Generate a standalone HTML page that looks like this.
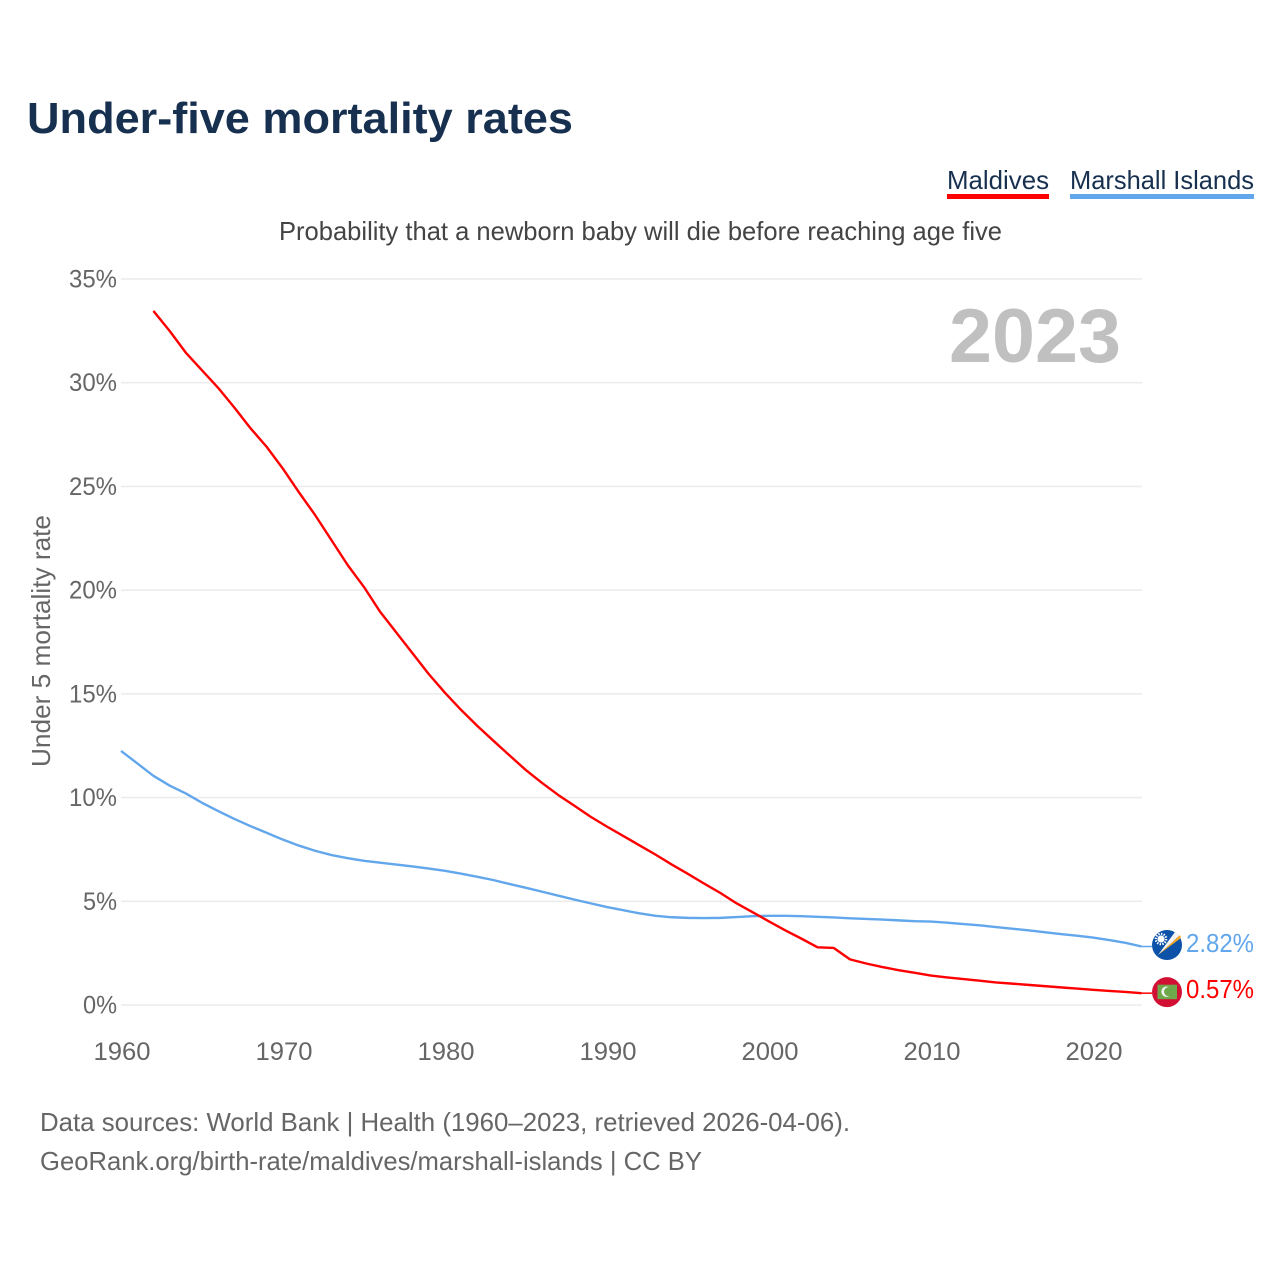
<!DOCTYPE html>
<html lang="en">
<head>
<meta charset="utf-8">
<title>Under-five mortality rates</title>
<style>
html,body{margin:0;padding:0;background:#fff;}
svg{display:block;font-family:"Liberation Sans",sans-serif;}
</style>
</head>
<body>
<svg id="chart" xmlns="http://www.w3.org/2000/svg" width="1280" height="1280" viewBox="0 0 1280 1280">
  <rect x="0" y="0" width="1280" height="1280" fill="#ffffff"/>
  <text x="27" y="133" font-size="44" font-weight="700" fill="#17304f" textLength="546" lengthAdjust="spacingAndGlyphs">Under-five mortality rates</text>
  <g>
    <text x="947" y="189" font-size="26" fill="#17304f" textLength="102" lengthAdjust="spacingAndGlyphs">Maldives</text>
    <rect x="947" y="194" width="102" height="5" fill="#ff0000"/>
  </g>
  <g>
    <text x="1070" y="189" font-size="26" fill="#17304f" textLength="184" lengthAdjust="spacingAndGlyphs">Marshall Islands</text>
    <rect x="1070" y="194" width="184" height="5" fill="#62a6ec"/>
  </g>
  <text x="279" y="240" font-size="26" fill="#444444" textLength="723" lengthAdjust="spacingAndGlyphs">Probability that a newborn baby will die before reaching age five</text>
  <g id="grid"></g>
  <g id="yticks"></g>
  <g id="xticks"></g>
  <text transform="translate(50,767) rotate(-90)" x="0" y="0" font-size="26" fill="#666666" textLength="252" lengthAdjust="spacingAndGlyphs">Under 5 mortality rate</text>
  <text x="949" y="362" font-size="76" font-weight="700" fill="#c0c0c0" textLength="172" lengthAdjust="spacingAndGlyphs">2023</text>
  <g id="series"></g>
  <g id="flag-mh"></g>
  <g id="flag-mv"></g>
  <g id="end-labels"></g>
  <text x="40" y="1131" font-size="26" fill="#666666" textLength="810" lengthAdjust="spacingAndGlyphs">Data sources: World Bank | Health (1960–2023, retrieved 2026-04-06).</text>
  <text x="40" y="1170" font-size="26" fill="#666666" textLength="662" lengthAdjust="spacingAndGlyphs">GeoRank.org/birth-rate/maldives/marshall-islands | CC BY</text>
</svg>
<script>
const maldivesYears = [1962,1963,1964,1965,1966,1967,1968,1969,1970,1971,1972,1973,1974,1975,1976,1977,1978,1979,1980,1981,1982,1983,1984,1985,1986,1987,1988,1989,1990,1991,1992,1993,1994,1995,1996,1997,1998,1999,2000,2001,2002,2003,2004,2005,2006,2007,2008,2009,2010,2011,2012,2013,2014,2015,2016,2017,2018,2019,2020,2021,2022,2023];
const maldivesValues = [33.46,32.5,31.45,30.6,29.75,28.8,27.8,26.9,25.85,24.7,23.6,22.4,21.2,20.15,18.95,17.95,16.95,15.95,15.05,14.22,13.45,12.73,12.02,11.32,10.7,10.12,9.6,9.07,8.6,8.15,7.7,7.25,6.77,6.32,5.85,5.4,4.9,4.47,4.03,3.6,3.2,2.78,2.75,2.2,2.0,1.83,1.68,1.55,1.42,1.33,1.25,1.17,1.09,1.03,0.97,0.91,0.85,0.79,0.73,0.68,0.63,0.57];
const marshallYears = [1960,1961,1962,1963,1964,1965,1966,1967,1968,1969,1970,1971,1972,1973,1974,1975,1976,1977,1978,1979,1980,1981,1982,1983,1984,1985,1986,1987,1988,1989,1990,1991,1992,1993,1994,1995,1996,1997,1998,1999,2000,2001,2002,2003,2004,2005,2006,2007,2008,2009,2010,2011,2012,2013,2014,2015,2016,2017,2018,2019,2020,2021,2022,2023];
const marshallValues = [12.25,11.65,11.05,10.58,10.2,9.75,9.35,8.97,8.62,8.3,7.97,7.68,7.43,7.23,7.08,6.95,6.86,6.77,6.68,6.58,6.47,6.33,6.18,6.02,5.83,5.65,5.46,5.27,5.08,4.9,4.72,4.57,4.42,4.3,4.23,4.2,4.19,4.2,4.24,4.28,4.3,4.3,4.28,4.25,4.22,4.18,4.15,4.12,4.08,4.04,4.02,3.97,3.9,3.84,3.76,3.68,3.6,3.51,3.42,3.34,3.25,3.13,3.0,2.82];
const yTickValues = [0,5,10,15,20,25,30,35];
const yTickLabels = ['0%','5%','10%','15%','20%','25%','30%','35%'];
const xTickValues = [1960,1970,1980,1990,2000,2010,2020];
const xTickLabels = ['1960','1970','1980','1990','2000','2010','2020'];

const NS = 'http://www.w3.org/2000/svg';
const xScale = year => 121 + (year - 1960) * 16.2;
const yScale = value => 1005 - value * 20.743;

function make(tag, attrs, parent, text) {
  const el = document.createElementNS(NS, tag);
  for (const key in attrs) el.setAttribute(key, attrs[key]);
  if (text !== undefined) el.textContent = text;
  parent.appendChild(el);
  return el;
}

const grid = document.getElementById('grid');
const yticks = document.getElementById('yticks');
yTickValues.forEach((v, i) => {
  const line = make('line', {x1: 121, x2: 1142, y1: yScale(v), y2: yScale(v), stroke: '#ececec', 'stroke-width': 1.6}, grid);
  
  
  const labelWidth = yTickLabels[i].length === 3 ? 48 : 34;
  const label = make('text', {x: 117 - labelWidth, y: yScale(v) + 8.5, 'font-size': 25, fill: '#666666', textLength: labelWidth, lengthAdjust: 'spacingAndGlyphs'}, yticks, yTickLabels[i]);
  
  
});

const xticks = document.getElementById('xticks');
xTickValues.forEach((v, i) => {
  const label = make('text', {x: xScale(v) + 1, y: 1060, 'text-anchor': 'middle', 'font-size': 25, fill: '#666666', textLength: 57, lengthAdjust: 'spacingAndGlyphs'}, xticks, xTickLabels[i]);
  
  
});

function pathFor(years, values) {
  return years.map((y, i) => (i ? 'L' : 'M') + xScale(y).toFixed(2) + ' ' + yScale(values[i]).toFixed(2)).join(' ');
}

const series = document.getElementById('series');
const lineMarshall = make('path', {d: pathFor(marshallYears, marshallValues), fill: 'none', stroke: '#62a6ec', 'stroke-width': 2.4, 'stroke-linejoin': 'round'}, series);


const lineMaldives = make('path', {d: pathFor(maldivesYears, maldivesValues), fill: 'none', stroke: '#ff0000', 'stroke-width': 2.4, 'stroke-linejoin': 'round'}, series);



const lastMarshall = marshallValues[marshallValues.length - 1];
const lastMaldives = maldivesValues[maldivesValues.length - 1];
const lastX = xScale(2023);

const leaderMarshall = make('line', {x1: lastX, x2: 1152, y1: yScale(lastMarshall), y2: yScale(lastMarshall), stroke: '#62a6ec', 'stroke-width': 1.5}, series);


const leaderMaldives = make('line', {x1: lastX, x2: 1152, y1: yScale(lastMaldives), y2: yScale(lastMaldives), stroke: '#ff0000', 'stroke-width': 1.5}, series);



const flagMh = document.getElementById('flag-mh');
const cyMh = yScale(lastMarshall) - 1.5;
flagMh.setAttribute('transform', 'translate(1167,' + cyMh + ')');
make('circle', {cx: 0, cy: 0, r: 15, fill: '#0b52a8'}, flagMh);
make('path', {d: 'M-9 10 L13 -10 L14 -7 Z', fill: '#f5a623'}, flagMh);
make('path', {d: 'M-9 10 L8 -13 L13 -10 Z', fill: '#f4f4f4'}, flagMh);
make('circle', {cx: -6, cy: -6, r: 3.6, fill: '#ffffff'}, flagMh);
make('circle', {cx: -6, cy: -6, r: 5.2, fill: 'none', stroke: '#ffffff', 'stroke-width': 2.2, 'stroke-dasharray': '1.4 1.3'}, flagMh);

const flagMv = document.getElementById('flag-mv');
const cyMv = yScale(lastMaldives) - 1;
flagMv.setAttribute('transform', 'translate(1167,' + cyMv + ')');
make('circle', {cx: 0, cy: 0, r: 15, fill: '#d21034'}, flagMv);
make('rect', {x: -9.5, y: -7.5, width: 19.5, height: 14.5, fill: '#6fa84a'}, flagMv);
make('circle', {cx: -0.5, cy: -0.5, r: 5.2, fill: '#f2f2f2'}, flagMv);
make('circle', {cx: 1.5, cy: -0.5, r: 4.5, fill: '#6fa84a'}, flagMv);

const endLabels = document.getElementById('end-labels');
const labelMarshall = make('text', {x: 1186, y: yScale(lastMarshall) + 5.5, 'font-size': 26, fill: '#62a6ec', textLength: 68, lengthAdjust: 'spacingAndGlyphs'}, endLabels, lastMarshall.toFixed(2) + '%');


const labelMaldives = make('text', {x: 1186, y: yScale(lastMaldives) + 5, 'font-size': 26, fill: '#ff0000', textLength: 68, lengthAdjust: 'spacingAndGlyphs'}, endLabels, lastMaldives.toFixed(2) + '%');


</script>
</body>
</html>
